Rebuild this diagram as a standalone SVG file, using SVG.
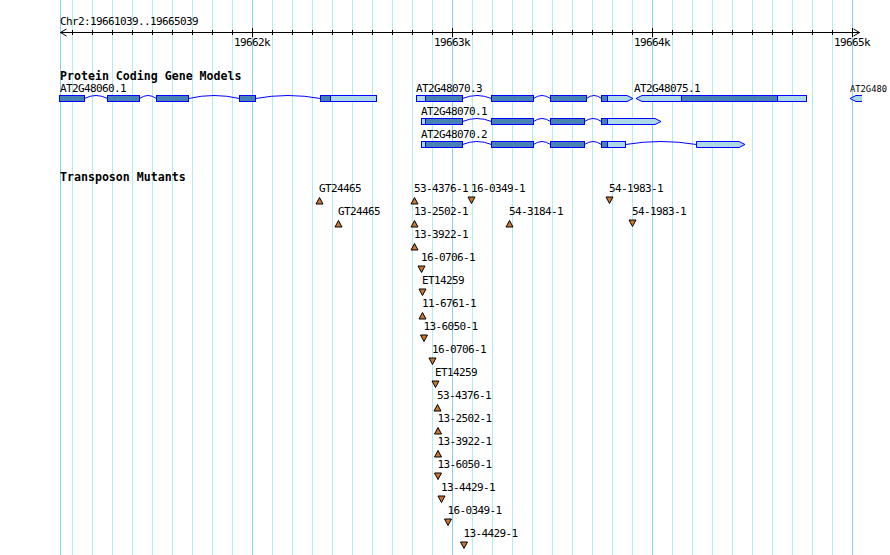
<svg xmlns="http://www.w3.org/2000/svg" width="890" height="555" viewBox="0 0 890 555">
<style>
.bg{fill:#ffffff}
.gmin{stroke:#afeeee;stroke-width:1}
.gmaj{stroke:#87cefa;stroke-width:1}
.ax{stroke:#000;stroke-width:1;fill:none}
.t{font-family:"DejaVu Sans Mono","Liberation Mono",monospace;font-size:11px;letter-spacing:-0.62px;fill:#000}
.tb{font-family:"DejaVu Sans Mono","Liberation Mono",monospace;font-size:11.6px;font-weight:bold;fill:#000}
.cds{fill:#4682b4;stroke:#0000ff;stroke-width:1}
.utr{fill:#add8e6;stroke:#0000ff;stroke-width:1}
.intr{fill:none;stroke:#0000ff;stroke-width:1}
.tri{fill:#c87832;stroke:#000;stroke-width:1;stroke-linejoin:round}
</style>
<rect class="bg" x="0" y="0" width="890" height="555"/>
<g id="grid">
<line class="gmaj" x1="60.5" y1="0" x2="60.5" y2="555"/>
<line class="gmin" x1="72.5" y1="0" x2="72.5" y2="555"/>
<line class="gmin" x1="92.5" y1="0" x2="92.5" y2="555"/>
<line class="gmin" x1="112.5" y1="0" x2="112.5" y2="555"/>
<line class="gmin" x1="132.5" y1="0" x2="132.5" y2="555"/>
<line class="gmin" x1="152.5" y1="0" x2="152.5" y2="555"/>
<line class="gmin" x1="172.5" y1="0" x2="172.5" y2="555"/>
<line class="gmin" x1="192.5" y1="0" x2="192.5" y2="555"/>
<line class="gmin" x1="212.5" y1="0" x2="212.5" y2="555"/>
<line class="gmin" x1="232.5" y1="0" x2="232.5" y2="555"/>
<line class="gmaj" x1="252.5" y1="0" x2="252.5" y2="555"/>
<line class="gmin" x1="272.5" y1="0" x2="272.5" y2="555"/>
<line class="gmin" x1="292.5" y1="0" x2="292.5" y2="555"/>
<line class="gmin" x1="312.5" y1="0" x2="312.5" y2="555"/>
<line class="gmin" x1="332.5" y1="0" x2="332.5" y2="555"/>
<line class="gmin" x1="352.5" y1="0" x2="352.5" y2="555"/>
<line class="gmin" x1="372.5" y1="0" x2="372.5" y2="555"/>
<line class="gmin" x1="392.5" y1="0" x2="392.5" y2="555"/>
<line class="gmin" x1="412.5" y1="0" x2="412.5" y2="555"/>
<line class="gmin" x1="432.5" y1="0" x2="432.5" y2="555"/>
<line class="gmaj" x1="452.5" y1="0" x2="452.5" y2="555"/>
<line class="gmin" x1="472.5" y1="0" x2="472.5" y2="555"/>
<line class="gmin" x1="492.5" y1="0" x2="492.5" y2="555"/>
<line class="gmin" x1="512.5" y1="0" x2="512.5" y2="555"/>
<line class="gmin" x1="532.5" y1="0" x2="532.5" y2="555"/>
<line class="gmin" x1="552.5" y1="0" x2="552.5" y2="555"/>
<line class="gmin" x1="572.5" y1="0" x2="572.5" y2="555"/>
<line class="gmin" x1="592.5" y1="0" x2="592.5" y2="555"/>
<line class="gmin" x1="612.5" y1="0" x2="612.5" y2="555"/>
<line class="gmin" x1="632.5" y1="0" x2="632.5" y2="555"/>
<line class="gmaj" x1="652.5" y1="0" x2="652.5" y2="555"/>
<line class="gmin" x1="672.5" y1="0" x2="672.5" y2="555"/>
<line class="gmin" x1="692.5" y1="0" x2="692.5" y2="555"/>
<line class="gmin" x1="712.5" y1="0" x2="712.5" y2="555"/>
<line class="gmin" x1="732.5" y1="0" x2="732.5" y2="555"/>
<line class="gmin" x1="752.5" y1="0" x2="752.5" y2="555"/>
<line class="gmin" x1="772.5" y1="0" x2="772.5" y2="555"/>
<line class="gmin" x1="792.5" y1="0" x2="792.5" y2="555"/>
<line class="gmin" x1="812.5" y1="0" x2="812.5" y2="555"/>
<line class="gmin" x1="832.5" y1="0" x2="832.5" y2="555"/>
<line class="gmaj" x1="852.5" y1="0" x2="852.5" y2="555"/>
</g>
<g id="ruler">
<text class="t" x="60" y="25">Chr2:19661039..19665039</text>
<line class="ax" x1="60" y1="32.5" x2="860" y2="32.5"/>
<path class="ax" d="M66.5,29 L60.5,32.5 L66.5,36 M853.5,29 L859.5,32.5 L853.5,36"/>
<path class="ax" d="M72.5,30V35 M92.5,30V35 M112.5,30V35 M132.5,30V35 M152.5,30V35 M172.5,30V35 M192.5,30V35 M212.5,30V35 M232.5,30V35 M272.5,30V35 M292.5,30V35 M312.5,30V35 M332.5,30V35 M352.5,30V35 M372.5,30V35 M392.5,30V35 M412.5,30V35 M432.5,30V35 M472.5,30V35 M492.5,30V35 M512.5,30V35 M532.5,30V35 M552.5,30V35 M572.5,30V35 M592.5,30V35 M612.5,30V35 M632.5,30V35 M672.5,30V35 M692.5,30V35 M712.5,30V35 M732.5,30V35 M752.5,30V35 M772.5,30V35 M792.5,30V35 M812.5,30V35 M832.5,30V35"/>
<path class="ax" d="M252.5,28V37 M452.5,28V37 M652.5,28V37 M852.5,28V37"/>
<text class="t" x="252" y="45.5" text-anchor="middle">19662k</text>
<text class="t" x="452" y="45.5" text-anchor="middle">19663k</text>
<text class="t" x="652" y="45.5" text-anchor="middle">19664k</text>
<text class="t" x="852" y="45.5" text-anchor="middle">19665k</text>
</g>
<text class="tb" x="60" y="80">Protein Coding Gene Models</text>
<g id="AT2G48060.1">
<text class="t" x="60" y="92">AT2G48060.1</text>
<path class="intr" d="M84.5,98.5 Q96,92.5 107.5,98.5 M139.5,98.5 Q148,92.5 156.5,98.5 M188.5,98.5 Q214,92.5 239.5,98.5 M255.5,98.5 Q288,92.5 320.5,98.5"/>
<rect class="cds" x="59.5" y="95.5" width="25" height="6"/>
<rect class="cds" x="107.5" y="95.5" width="32" height="6"/>
<rect class="cds" x="156.5" y="95.5" width="32" height="6"/>
<rect class="cds" x="239.5" y="95.5" width="16" height="6"/>
<rect class="cds" x="320.5" y="95.5" width="10" height="6"/>
<rect class="utr" x="330.5" y="95.5" width="46" height="6"/>
</g>
<g id="AT2G48070.3">
<text class="t" x="416" y="92">AT2G48070.3</text>
<path class="intr" d="M462.5,98.5 Q477,92.5 491.5,98.5 M533.5,98.5 Q542,92.5 550.5,98.5 M586.5,98.5 Q594,92.5 601.5,98.5"/>
<rect class="utr" x="416.5" y="95.5" width="9" height="6"/>
<rect class="cds" x="425.5" y="95.5" width="37" height="6"/>
<rect class="cds" x="491.5" y="95.5" width="42" height="6"/>
<rect class="cds" x="550.5" y="95.5" width="36" height="6"/>
<path class="utr" d="M607.5,95.5 H627 L633,98.5 L627,101.5 H607.5 Z"/>
<rect class="cds" x="601.5" y="95.5" width="6" height="6"/>
</g>
<g id="AT2G48075.1">
<text class="t" x="634" y="92">AT2G48075.1</text>
<path class="utr" d="M681.5,95.5 H642 L636,98.5 L642,101.5 H681.5 Z"/>
<rect class="cds" x="681.5" y="95.5" width="96" height="6"/>
<rect class="utr" x="777.5" y="95.5" width="29" height="6"/>
</g>
<g id="AT2G48080">
<text class="t" x="850" y="92" style="letter-spacing:0;font-size:9px" textLength="37" lengthAdjust="spacingAndGlyphs">AT2G480</text>
<path class="utr" d="M862,95.5 H856 L850,98.5 L856,101.5 H862"/>
</g>
<g id="AT2G48070.1">
<text class="t" x="421" y="115">AT2G48070.1</text>
<path class="intr" d="M462.5,121.5 Q477,115.5 491.5,121.5 M533.5,121.5 Q542,115.5 550.5,121.5 M584.5,121.5 Q593,115.5 601.5,121.5"/>
<rect class="utr" x="421.5" y="118.5" width="4" height="6"/>
<rect class="cds" x="425.5" y="118.5" width="37" height="6"/>
<rect class="cds" x="491.5" y="118.5" width="42" height="6"/>
<rect class="cds" x="550.5" y="118.5" width="34" height="6"/>
<path class="utr" d="M607.5,118.5 H655 L661,121.5 L655,124.5 H607.5 Z"/>
<rect class="cds" x="601.5" y="118.5" width="6" height="6"/>
</g>
<g id="AT2G48070.2">
<text class="t" x="421" y="138">AT2G48070.2</text>
<path class="intr" d="M462.5,144.5 Q477,138.5 491.5,144.5 M533.5,144.5 Q542,138.5 550.5,144.5 M584.5,144.5 Q593,138.5 601.5,144.5 M625.5,144.5 Q661,138.5 696.5,144.5"/>
<rect class="utr" x="421.5" y="141.5" width="4" height="6"/>
<rect class="cds" x="425.5" y="141.5" width="37" height="6"/>
<rect class="cds" x="491.5" y="141.5" width="42" height="6"/>
<rect class="cds" x="550.5" y="141.5" width="34" height="6"/>
<rect class="cds" x="601.5" y="141.5" width="6" height="6"/>
<rect class="utr" x="607.5" y="141.5" width="18" height="6"/>
<path class="utr" d="M696.5,141.5 H739 L745,144.5 L739,147.5 H696.5 Z"/>
</g>
<text class="tb" x="60" y="181">Transposon Mutants</text>
<g id="connectors"/>
<g id="tn-GT24465-a"><text class="t" x="319" y="192">GT24465</text><polygon class="tri" points="316,204 323,204 319.5,197.5"/></g>
<g id="tn-53-4376-1-a"><text class="t" x="414" y="192">53-4376-1</text><polygon class="tri" points="411,204 418,204 414.5,197.5"/></g>
<g id="tn-16-0349-1-a"><text class="t" x="471" y="192">16-0349-1</text><polygon class="tri" points="468,197 475,197 471.5,203.5"/></g>
<g id="tn-54-1983-1-a"><text class="t" x="609" y="192">54-1983-1</text><polygon class="tri" points="606,197 613,197 609.5,203.5"/></g>
<g id="tn-GT24465-b"><text class="t" x="338" y="215">GT24465</text><polygon class="tri" points="335,227 342,227 338.5,220.5"/></g>
<g id="tn-13-2502-1-a"><text class="t" x="414" y="215">13-2502-1</text><polygon class="tri" points="411,227 418,227 414.5,220.5"/></g>
<g id="tn-54-3184-1"><text class="t" x="509" y="215">54-3184-1</text><polygon class="tri" points="506,227 513,227 509.5,220.5"/></g>
<g id="tn-54-1983-1-b"><text class="t" x="632" y="215">54-1983-1</text><polygon class="tri" points="629,220 636,220 632.5,226.5"/></g>
<g id="tn-13-3922-1-a"><text class="t" x="414" y="238">13-3922-1</text><polygon class="tri" points="411,250 418,250 414.5,243.5"/></g>
<g id="tn-16-0706-1-a"><text class="t" x="421" y="261">16-0706-1</text><polygon class="tri" points="418,266 425,266 421.5,272.5"/></g>
<g id="tn-ET14259-a"><text class="t" x="422" y="284">ET14259</text><polygon class="tri" points="419,289 426,289 422.5,295.5"/></g>
<g id="tn-11-6761-1"><text class="t" x="422" y="307">11-6761-1</text><polygon class="tri" points="419,319 426,319 422.5,312.5"/></g>
<g id="tn-13-6050-1-a"><text class="t" x="423.5" y="330">13-6050-1</text><polygon class="tri" points="420.5,335 427.5,335 424,341.5"/></g>
<g id="tn-16-0706-1-b"><text class="t" x="432" y="353">16-0706-1</text><polygon class="tri" points="429,358 436,358 432.5,364.5"/></g>
<g id="tn-ET14259-b"><text class="t" x="435" y="376">ET14259</text><polygon class="tri" points="432,381 439,381 435.5,387.5"/></g>
<g id="tn-53-4376-1-b"><text class="t" x="437" y="399">53-4376-1</text><polygon class="tri" points="434,411 441,411 437.5,404.5"/></g>
<g id="tn-13-2502-1-b"><text class="t" x="437.5" y="422">13-2502-1</text><polygon class="tri" points="434.5,434 441.5,434 438,427.5"/></g>
<g id="tn-13-3922-1-b"><text class="t" x="437.5" y="445">13-3922-1</text><polygon class="tri" points="434.5,457 441.5,457 438,450.5"/></g>
<g id="tn-13-6050-1-b"><text class="t" x="437.5" y="468">13-6050-1</text><polygon class="tri" points="434.5,473 441.5,473 438,479.5"/></g>
<g id="tn-13-4429-1-a"><text class="t" x="441" y="491">13-4429-1</text><polygon class="tri" points="438,496 445,496 441.5,502.5"/></g>
<g id="tn-16-0349-1-b"><text class="t" x="447.5" y="514">16-0349-1</text><polygon class="tri" points="444.5,519 451.5,519 448,525.5"/></g>
<g id="tn-13-4429-1-b"><text class="t" x="463.5" y="537">13-4429-1</text><polygon class="tri" points="460.5,542 467.5,542 464,548.5"/></g>
</svg>
